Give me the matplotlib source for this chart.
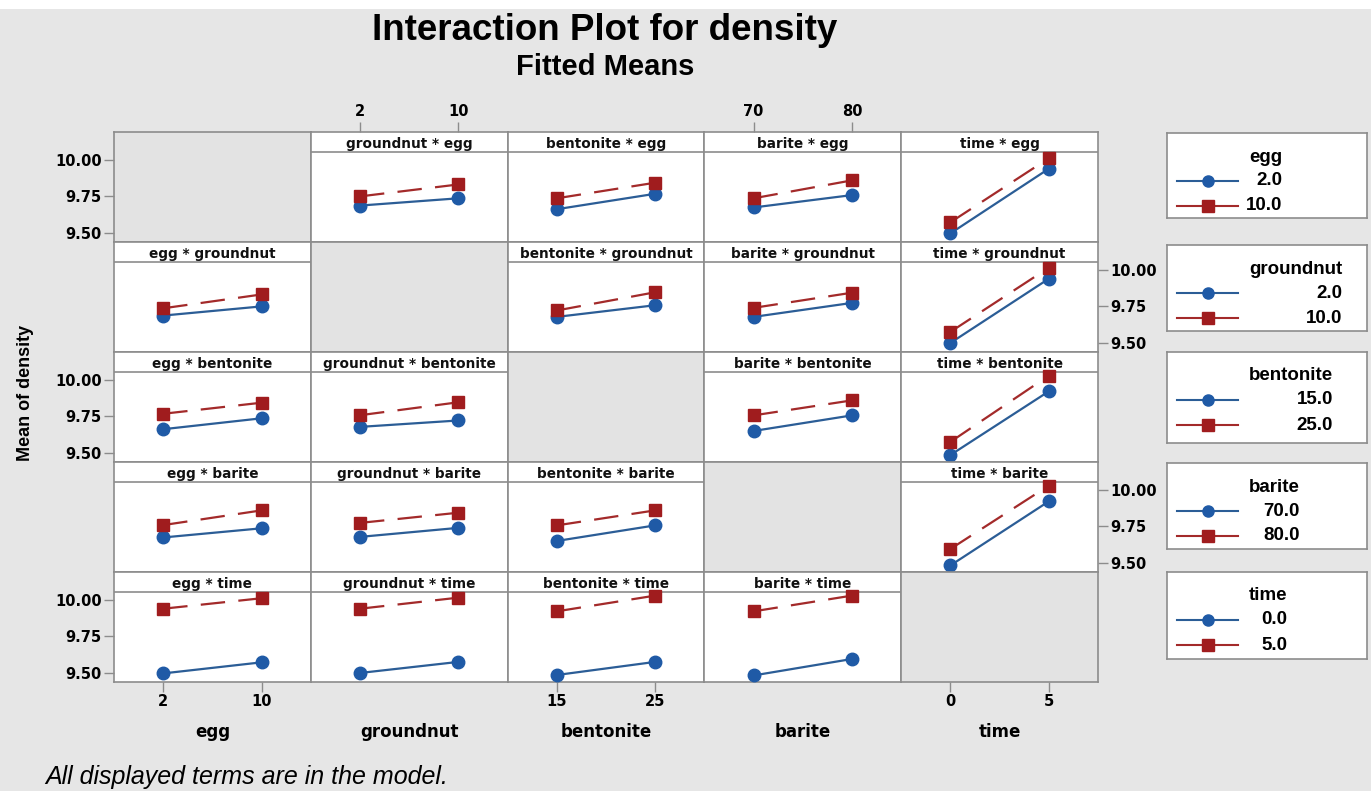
import numpy as np
import matplotlib.pyplot as plt
from matplotlib.patches import Rectangle

# factors in plot order and their two levels
factors = ['egg', 'groundnut', 'bentonite', 'barite', 'time']
egg_levels = [2, 10]
groundnut_levels = [2, 10]
bentonite_levels = [15, 25]
barite_levels = [70, 80]
time_levels = [0, 5]

# fitted means: rows = levels of first factor, cols = levels of second factor
egg_groundnut = [[9.685, 9.735], [9.748, 9.830]]
egg_bentonite = [[9.660, 9.766], [9.735, 9.842]]
egg_barite = [[9.672, 9.757], [9.735, 9.858]]
egg_time = [[9.494, 9.938], [9.570, 10.010]]
groundnut_bentonite = [[9.676, 9.756], [9.720, 9.845]]
groundnut_barite = [[9.676, 9.772], [9.738, 9.842]]
groundnut_time = [[9.497, 9.938], [9.573, 10.014]]
bentonite_barite = [[9.648, 9.755], [9.755, 9.858]]
bentonite_time = [[9.483, 9.920], [9.573, 10.028]]
barite_time = [[9.480, 9.920], [9.593, 10.028]]

y_ticks = [9.50, 9.75, 10.00]

levels = {'egg': egg_levels, 'groundnut': groundnut_levels,
          'bentonite': bentonite_levels, 'barite': barite_levels,
          'time': time_levels}
pair_means = {
    ('egg', 'groundnut'): egg_groundnut, ('egg', 'bentonite'): egg_bentonite,
    ('egg', 'barite'): egg_barite, ('egg', 'time'): egg_time,
    ('groundnut', 'bentonite'): groundnut_bentonite,
    ('groundnut', 'barite'): groundnut_barite,
    ('groundnut', 'time'): groundnut_time,
    ('bentonite', 'barite'): bentonite_barite,
    ('bentonite', 'time'): bentonite_time,
    ('barite', 'time'): barite_time,
}


def cell_means(line_f, x_f):
    # returns means[k][m]: k = level of line factor, m = level of x factor
    if (line_f, x_f) in pair_means:
        return np.array(pair_means[(line_f, x_f)])
    return np.array(pair_means[(x_f, line_f)]).T


BLUE = '#1f5aa6'
BLUE_LINE = '#2b5d96'
RED = '#a01c1e'
RED_LINE = '#a32a2a'
FRAME = '#8c8c8c'
BG = '#e6e6e6'
DIAG = '#e3e3e3'

W, H = 1371, 791
fig = plt.figure(figsize=(W / 100, H / 100), dpi=100, facecolor=BG)
fig.patches.append(Rectangle((0, 1 - 9 / H), 1, 9 / H, transform=fig.transFigure,
                             facecolor='white', edgecolor='none'))


def px(x0, y0, x1, y1):
    return [x0 / W, 1 - y1 / H, (x1 - x0) / W, (y1 - y0) / H]


left, top = 114, 132
cw, ch = 196.8, 110
ylim = (9.435, 10.19)
strip = 20 / 110
tick_font = dict(fontsize=10.5, fontweight='bold', family='DejaVu Sans')

n = len(factors)
for i, fr in enumerate(factors):
    for j, fc in enumerate(factors):
        ax = fig.add_axes(px(left + j * cw, top + i * ch,
                             left + (j + 1) * cw, top + (i + 1) * ch))
        xs = levels[fc]
        span = xs[1] - xs[0]
        ax.set_xlim(xs[0] - span / 2, xs[1] + span / 2)
        ax.set_ylim(*ylim)
        for s in ax.spines.values():
            s.set_color(FRAME)
            s.set_linewidth(1.2)
        ax.set_xticks(xs)
        ax.set_xticklabels([str(v) for v in xs], **tick_font)
        ax.set_yticks(y_ticks)
        ax.set_yticklabels([f'{v:.2f}' for v in y_ticks], **tick_font)
        ax.tick_params(axis='both', length=7, width=1, color=FRAME, pad=2,
                       direction='out')
        ax.tick_params(axis='x', bottom=(i == n - 1 and j % 2 == 0),
                       labelbottom=(i == n - 1 and j % 2 == 0),
                       top=(i == 0 and j % 2 == 1),
                       labeltop=(i == 0 and j % 2 == 1))
        ax.tick_params(axis='y', left=(j == 0 and i % 2 == 0),
                       labelleft=(j == 0 and i % 2 == 0),
                       right=(j == n - 1 and i % 2 == 1),
                       labelright=(j == n - 1 and i % 2 == 1))
        if i == j:
            ax.set_facecolor(DIAG)
            continue
        ax.set_facecolor('white')
        ax.plot([0, 1], [1 - strip, 1 - strip], transform=ax.transAxes,
                color=FRAME, lw=1.2, zorder=1)
        ax.text(0.5, 1 - 12 / 110, f'{fc} * {fr}', transform=ax.transAxes,
                ha='center', va='center', fontsize=9.8, fontweight='bold',
                family='DejaVu Sans', color='#111111', zorder=2)
        m = cell_means(fr, fc)
        ax.plot(xs, m[0], color=BLUE_LINE, lw=1.6, marker='o', ms=9,
                mfc=BLUE, mec=BLUE, zorder=3, clip_on=False)
        ax.plot(xs, m[1], color=RED_LINE, lw=1.6, ls=(0, (11, 6)), marker='s',
                ms=9, mfc=RED, mec=RED, zorder=4, clip_on=False)

# factor names under the columns
for j, fc in enumerate(factors):
    fig.text((left + (j + 0.5) * cw) / W, 1 - 732 / H, fc, ha='center',
             va='center', fontsize=12, fontweight='bold', family='DejaVu Sans')

fig.text(26 / W, 1 - 393 / H, 'Mean of density', rotation=90, ha='center',
         va='center', fontsize=13, fontweight='bold',
         family='Liberation Sans')

fig.text(605 / W, 1 - 31 / H, 'Interaction Plot for density', ha='center',
         va='center', fontsize=26.5, fontweight='bold', family='Liberation Sans')
fig.text(605 / W, 1 - 67 / H, 'Fitted Means', ha='center', va='center',
         fontsize=21, fontweight='bold', family='Liberation Sans')

fig.text(45 / W, 1 - 777 / H, 'All displayed terms are in the model.',
         ha='left', va='center', fontsize=18, style='italic',
         family='Liberation Sans')

# legends, one box per factor
legend_boxes = [(133, 218), (245, 331), (352, 443), (463, 549), (572, 659)]
renderer = fig.canvas.get_renderer()
for fc, (y0, y1) in zip(factors, legend_boxes):
    lax = fig.add_axes(px(1167, y0, 1367, y1))
    lax.set_xlim(0, 200)
    lax.set_ylim(y1 - y0, 0)
    lax.set_xticks([])
    lax.set_yticks([])
    lax.set_facecolor('white')
    for s in lax.spines.values():
        s.set_color(FRAME)
        s.set_linewidth(1.2)
    t = lax.text(82, 24, fc, ha='left', va='center', fontsize=13.5,
                 fontweight='bold', family='Liberation Sans')
    bb = t.get_window_extent(renderer)
    x_right = lax.transData.inverted().transform((bb.x1, bb.y0))[0]
    styles = [(BLUE_LINE, BLUE, 'o'), (RED_LINE, RED, 's')]
    for k, (lc, mc, mk) in enumerate(styles):
        yy = 48 + 25 * k
        lax.plot([10, 71], [yy, yy], color=lc, lw=1.5)
        lax.plot([41], [yy], marker=mk, ms=8, mfc=mc, mec=mc, ls='none')
        lax.text(x_right, yy, f'{levels[fc][k]:.1f}', ha='right', va='center',
                 fontsize=13.5, fontweight='bold', family='Liberation Sans')

fig.savefig('out.png', dpi=100, facecolor=BG)
